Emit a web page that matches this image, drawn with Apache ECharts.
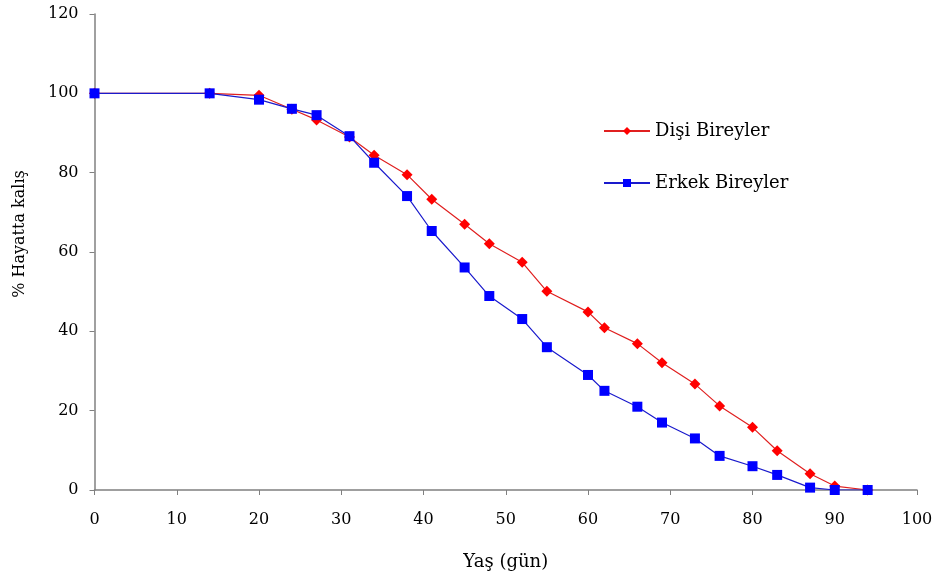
<!DOCTYPE html>
<html>
<head>
<meta charset="utf-8">
<script src="https://cdn.jsdelivr.net/npm/echarts@6/dist/echarts.min.js"></script>
<style>html,body{margin:0;padding:0;background:#fff}#c{width:936px;height:584px}</style>
</head>
<body>
<div id="c"></div>
<script>
const ages = [0,14,20,24,27,31,34,38,41,45,48,52,55,60,62,66,69,73,76,80,83,87,90,94];
const female = [100,100,99.5,96,93.3,89,84.4,79.5,73.3,67,62.1,57.4,50.1,44.9,40.9,36.9,32.1,26.7,21.2,15.8,9.9,4.1,1,0];
const male = [100,100,98.4,96.1,94.5,89.2,82.5,74.1,65.3,56.1,48.9,43.1,36,29,25,21,17,13,8.6,6,3.8,0.6,0,0];
const seriesNames = ['Dişi Bireyler','Erkek Bireyler'];
const xTitle = 'Yaş (gün)';
const yTitle = '% Hayatta kalış';

const font = 'DejaVu Serif';
const chart = echarts.init(document.getElementById('c'));
chart.setOption({
  animation: false,
  backgroundColor: '#fff',
  grid: {left: 94.5, right: 19, top: 14, bottom: 94, containLabel: false},
  legend: {
    orient: 'vertical', left: 598, top: 117, itemGap: 34,
    itemWidth: 46, itemHeight: 10,
    textStyle: {fontFamily: font, fontSize: 18, color: '#000'},
    data: seriesNames
  },
  graphic: [{
    type: 'text', x: 20, y: 234, rotation: Math.PI / 2,
    style: {text: yTitle, fontFamily: font, fontSize: 16, fill: '#000', align: 'center', verticalAlign: 'middle'}
  }],
  xAxis: {
    type: 'value', min: 0, max: 100, interval: 10,
    name: xTitle, nameLocation: 'middle', nameGap: 63,
    nameTextStyle: {fontFamily: font, fontSize: 18, color: '#000'},
    axisLine: {lineStyle: {color: '#808080', width: 1.5}},
    axisTick: {show: true, length: 5, lineStyle: {color: '#808080'}},
    axisLabel: {fontFamily: font, fontSize: 16, color: '#000', margin: 22},
    splitLine: {show: false}
  },
  yAxis: {
    type: 'value', min: 0, max: 120, interval: 20,
    axisLine: {show: true, lineStyle: {color: '#808080', width: 1.5}},
    axisTick: {show: true, length: 5, lineStyle: {color: '#808080'}},
    axisLabel: {fontFamily: font, fontSize: 16, color: '#000', margin: 16},
    splitLine: {show: false}
  },
  series: [
    {
      name: seriesNames[0], type: 'line',
      data: ages.map((a, i) => [a, female[i]]),
      symbol: 'diamond', symbolSize: 11,
      itemStyle: {color: '#ff0000'},
      lineStyle: {color: '#e02020', width: 1.2}
    },
    {
      name: seriesNames[1], type: 'line',
      data: ages.map((a, i) => [a, male[i]]),
      symbol: 'rect', symbolSize: 10,
      itemStyle: {color: '#0000ff'},
      lineStyle: {color: '#1a1acc', width: 1.2}
    }
  ]
});
</script>
</body>
</html>
